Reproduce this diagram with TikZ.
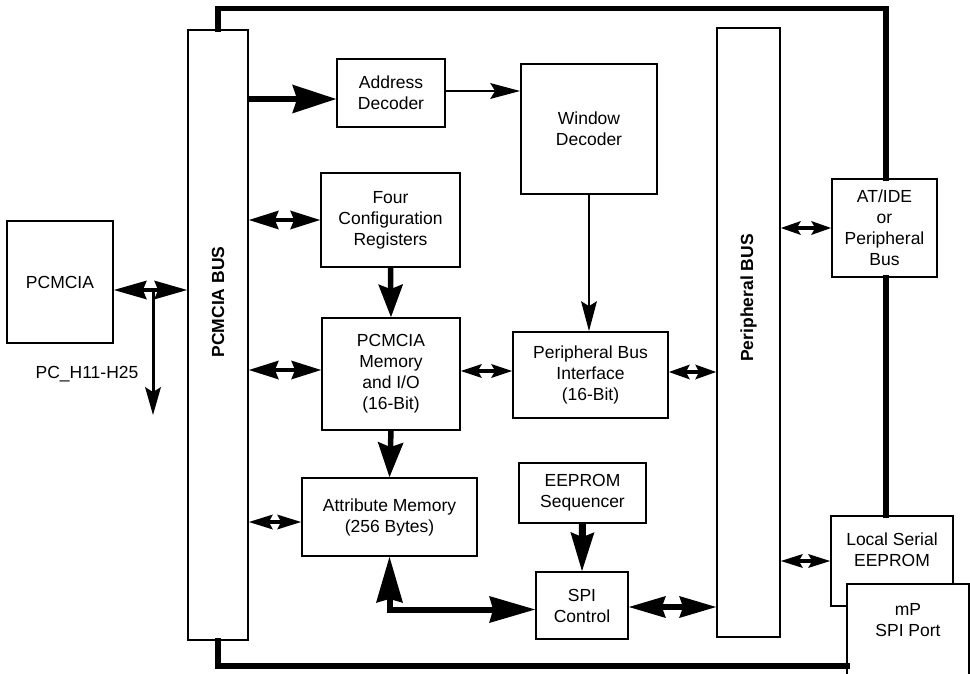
\documentclass[tikz,border=0pt]{standalone}
\usepackage{fontspec}
\setmainfont{Liberation Sans}
\usetikzlibrary{arrows.meta}
\newcommand{\basefont}{\fontsize{17.5}{21}\selectfont}
\tikzset{
  box/.style={draw, line width=1.8pt, fill=white, inner sep=0pt, align=center},
  frame/.style={line width=5.5pt, line join=miter, line cap=rect},
  ar/.style n args={3}{line width=#1, arrows={-Stealth[length=#2, width=#3, inset=5pt, line width=0pt]}},
  dar/.style n args={3}{line width=#1, arrows={Stealth[length=#2, width=#3, inset=4pt, line width=0pt]-Stealth[length=#2, width=#3, inset=4pt, line width=0pt]}},
  buslbl/.style={font=\basefont\bfseries, rotate=90},
}
\begin{document}
\begin{tikzpicture}[x=1pt, y=-1pt, font=\basefont]
\useasboundingbox (0,0) rectangle (970,674);
% boxes
\node[box, minimum width=106pt, minimum height=122pt] (pcmcia) at (60,282) {PCMCIA};
\node[box, minimum width=60pt, minimum height=610pt] (pbus) at (218,335) {};
\node[buslbl] at (218,302) {PCMCIA BUS};
\node[box, minimum width=108pt, minimum height=68pt] (addr) at (391,93) {Address\\Decoder};
\node[box, minimum width=136pt, minimum height=130pt] (win) at (589,129) {Window\\Decoder};
\node[box, minimum width=139pt, minimum height=94pt] (conf) at (390.5,220) {Four\\Configuration\\Registers};
\node[box, minimum width=138pt, minimum height=112pt] (mem) at (391,374) {PCMCIA\\Memory\\and I/O\\(16-Bit)};
\node[box, minimum width=155pt, minimum height=86pt] (pbi) at (590.5,375) {Peripheral Bus\\Interface\\(16-Bit)};
\node[box, minimum width=175pt, minimum height=78pt] (attr) at (389.5,517) {Attribute Memory\\(256 Bytes)};
\node[box, minimum width=127pt, minimum height=60pt] (eseq) at (582.5,493) {EEPROM\\Sequencer};
\node[box, minimum width=92pt, minimum height=67pt] (spi) at (582,605.5) {SPI\\Control};
\node[box, minimum width=63pt, minimum height=609pt] (perbus) at (748.5,332.5) {};
\node[buslbl] at (748.5,298) {Peripheral BUS};
\node[box, minimum width=105pt, minimum height=98pt] (atide) at (884.5,228) {AT/IDE\\or\\Peripheral\\Bus};
\node[box, minimum width=122pt, minimum height=90pt] (lser) at (892,561) {};
\node[align=center] (lsertxt) at (892,550) {Local Serial\\EEPROM};
% mP SPI port (cut off at the bottom edge)
\fill[white] (847,584) rectangle (969,674);
\draw[line width=1.8pt] (847,674) |- (969,584) -- (969,674);
\node[align=center] (mpspi) at (908,620) {mP\\SPI Port};
% thick frame
\coordinate (ftop) at (886,8.5);
\coordinate (fbot) at (847,666);
\draw[frame] (pbus.north) |- (ftop) -- (ftop |- atide.north);
\draw[frame] (atide.south -| ftop) -- (lser.north -| ftop);
\draw[frame] (pbus.south) |- (fbot);
% PCMCIA side
\coordinate (j) at (153,290);
\coordinate (hend) at (153,415);
\draw[dar={4.5pt}{33pt}{19pt}] (pcmcia.east |- j) -- (pbus.west |- j);
\draw[ar={3pt}{28pt}{16pt}] (j) -- (hend);
\node (pch) at (87,374) {PC\_H11-H25};
% arrows
\draw[ar={6.5pt}{44pt}{29pt}] (pbus.east |- 0,99) -- (addr.west |- 0,99);
\draw[ar={1.6pt}{30pt}{16pt}] (addr.east |- 0,91) -- (win.west |- 0,91);
\draw[dar={4.5pt}{30pt}{19pt}] (pbus.east |- conf.west) -- (conf.west);
\draw[ar={5.5pt}{33pt}{25pt}] (conf.south) -- (mem.north);
\draw[dar={4.5pt}{30pt}{19pt}] (pbus.east |- 0,370) -- (mem.west |- 0,370);
\draw[dar={3.5pt}{21pt}{14pt}] (mem.east |- 0,371) -- (pbi.west |- 0,371);
\draw[dar={3.5pt}{21pt}{15pt}] (pbi.east |- 0,372) -- (perbus.west |- 0,372);
\draw[ar={1.6pt}{30pt}{16pt}] (win.south) -- (win.south |- pbi.north);
\draw[ar={5.5pt}{35pt}{26pt}] (mem.south) -- (attr.north);
\draw[dar={3.5pt}{24pt}{15pt}] (pbus.east |- 0,522) -- (attr.west |- 0,522);
\draw[dar={6pt}{46pt}{27pt}, line join=miter] (attr.south) |- ([yshift=-4pt]spi.west);
\draw[ar={7pt}{39pt}{24pt}] (eseq.south) -- (spi.north);
\draw[dar={6pt}{37pt}{22pt}] (spi.east |- 0,607) -- (perbus.west |- 0,607);
\draw[dar={3.5pt}{22pt}{14pt}] (perbus.east |- lser.west) -- (lser.west);
\draw[dar={3.5pt}{20pt}{14pt}] (perbus.east |- atide.west) -- (atide.west);
\end{tikzpicture}
\end{document}
